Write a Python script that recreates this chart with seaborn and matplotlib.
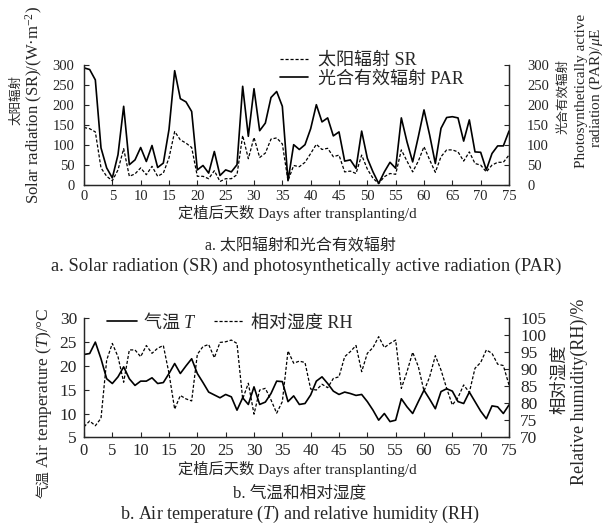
import matplotlib
matplotlib.use('Agg')
import matplotlib.pyplot as plt
import seaborn as sns
import pandas as pd

days = list(range(76))
sr = [143, 140, 132, 42, 21, 10, 37, 90, 21, 27, 42, 25, 46, 21, 29, 67, 133, 112, 104, 93,
      21, 21, 15, 35, 8, 15, 15, 25, 123, 65, 118, 68, 79, 114, 117, 102, 10, 48, 45, 56,
      78, 101, 88, 91, 70, 74, 32, 34, 28, 74, 39, 16, 3, 20, 28, 26, 87, 59, 32, 59,
      95, 62, 31, 70, 87, 87, 82, 59, 82, 53, 49, 32, 49, 56, 56, 74]
par = [292, 288, 262, 92, 42, 17, 75, 196, 50, 62, 93, 58, 98, 43, 54, 138, 285, 215, 207, 183,
       37, 48, 29, 83, 23, 37, 32, 50, 246, 121, 240, 135, 154, 218, 233, 196, 10, 100, 88, 100,
       140, 200, 157, 167, 122, 132, 59, 62, 41, 134, 66, 32, 3, 32, 56, 41, 167, 107, 57, 120,
       187, 124, 53, 141, 168, 170, 167, 109, 162, 82, 81, 37, 78, 97, 97, 134]
temp = [22.4, 22.6, 25.0, 21.5, 17.3, 16.3, 17.7, 19.8, 17.3, 15.9, 16.8, 16.8, 17.5, 16.3, 16.5,
        18.4, 20.5, 18.4, 20.0, 21.5, 18.4, 16.5, 14.5, 13.9, 13.3, 14.0, 13.5, 10.7, 13.3, 11.9,
        15.6, 11.9, 12.4, 14.2, 16.8, 16.7, 12.5, 13.7, 11.9, 12.1, 13.9, 16.8, 17.7, 16.3, 14.7,
        14.0, 14.5, 14.2, 13.8, 14.0, 12.5, 10.7, 8.6, 10.0, 8.3, 8.6, 13.1, 11.4, 10.0, 12.5,
        14.9, 13.0, 11.0, 14.6, 15.2, 14.7, 12.5, 12.1, 14.5, 12.5, 10.5, 8.9, 11.6, 11.4, 10.0, 11.8]
rh = [73.1, 74.8, 73.4, 75.6, 92.7, 97.6, 93.7, 86.2, 95.7, 95.7, 93.7, 97.0, 94.7, 96.2, 97.0,
      88.8, 78.3, 82.3, 81.3, 80.7, 94.4, 96.7, 97.3, 93.4, 97.9, 98.1, 98.6, 97.6, 81.3, 85.9,
      76.8, 83.9, 84.4, 81.0, 77.1, 80.5, 95.4, 91.8, 92.4, 92.0, 84.2, 83.9, 85.6, 84.6, 87.3,
      87.8, 93.7, 95.2, 97.0, 89.3, 94.7, 96.4, 99.6, 96.4, 97.6, 98.6, 84.4, 89.3, 95.0, 90.8,
      83.6, 87.8, 94.0, 89.8, 84.4, 79.5, 81.7, 85.4, 83.2, 90.3, 92.0, 95.7, 94.7, 91.5, 91.1, 85.4]

xticks = list(range(0, 80, 5))
rad_ticks = list(range(0, 350, 50))
t_ticks = list(range(5, 35, 5))
rh_ticks = list(range(70, 110, 5))

df = pd.DataFrame({'day': days, 'sr': sr, 'par': par, 'temp': temp, 'rh': rh})

sns.set_style('ticks')
plt.rcParams['font.family'] = ['Liberation Serif', 'Noto Sans CJK SC']
plt.rcParams['mathtext.fontset'] = 'custom'
plt.rcParams['mathtext.rm'] = 'Liberation Serif'
plt.rcParams['mathtext.it'] = 'Liberation Serif:italic'
plt.rcParams['axes.linewidth'] = 0.9

W, H = 611, 526
fig = plt.figure(figsize=(W / 100, H / 100), dpi=100)


def fx(x):
    return x / W


def fy(y):
    return 1 - y / H


ax1 = fig.add_axes([fx(84), fy(184.7), 425 / W, 120 / H])
ax1r = ax1.twinx()
ax2 = fig.add_axes([fx(84), fy(437.3), 425 / W, 119 / H])
ax2r = ax2.twinx()

dash = (0, (2.5, 1.5))
sns.lineplot(data=df, x='day', y='sr', ax=ax1, color='black', lw=0.9, linestyle=dash, legend=False)
sns.lineplot(data=df, x='day', y='par', ax=ax1r, color='black', lw=1.2, legend=False)
sns.lineplot(data=df, x='day', y='temp', ax=ax2, color='black', lw=1.2, legend=False)
sns.lineplot(data=df, x='day', y='rh', ax=ax2r, color='black', lw=0.9, linestyle=dash, legend=False)

for a in (ax1, ax1r, ax2, ax2r):
    a.set_xlim(0, 75)
    a.set_xlabel('')
    a.set_ylabel('')
    a.spines['top'].set_visible(False)
    a.tick_params(direction='in', length=3.5, width=0.8)

ax1.set_ylim(0, 300)
ax1r.set_ylim(0, 300)
ax1.set_yticks(rad_ticks)
ax1r.set_yticks(rad_ticks)
ax1.set_xticks(xticks)
ax1.tick_params(axis='y', labelsize=10.5, pad=7)
ax1.tick_params(axis='x', labelsize=10.5, pad=4)
ax1r.tick_params(axis='y', labelsize=10.5, pad=13)

ax2.set_ylim(5, 30)
ax2r.set_ylim(70, 105)
ax2.set_yticks(t_ticks)
ax2r.set_yticks(rh_ticks)
ax2.set_xticks(xticks)
ax2.tick_params(axis='y', labelsize=12.5, pad=5)
ax2.tick_params(axis='x', labelsize=12, pad=4)
ax2r.tick_params(axis='y', labelsize=12.5, pad=8)

# legends
h1 = ax1.get_lines()[0]
h2 = ax1r.get_lines()[0]
fig.legend([h1, h2], ['太阳辐射 SR', '光合有效辐射 PAR'], loc='upper left',
           bbox_to_anchor=(fx(280), fy(52)), frameon=False, fontsize=13,
           borderpad=0, borderaxespad=0, handlelength=1.55, handletextpad=0.55,
           labelspacing=0.1)
h3 = ax2.get_lines()[0]
h4 = ax2r.get_lines()[0]
leg2 = fig.legend([h3, h4], ['气温 $T$', '相对湿度 RH'], loc='upper left', ncol=2,
                  bbox_to_anchor=(fx(107), fy(311)), frameon=False, fontsize=13,
                  borderpad=0, borderaxespad=0, handlelength=1.65, handletextpad=0.35,
                  columnspacing=1.0)
leg2.get_texts()[0].set_fontfamily(['Noto Sans CJK SC'])

# axis labels as figure text
fig.text(fx(16.5), fy(100), '太阳辐射', rotation=90, ha='center', va='center', fontsize=9)
fig.text(fx(34), fy(105), 'Solar radiation (SR)/(W·m$^{-2}$)', rotation=90, ha='center', va='center', fontsize=12)
fig.text(fx(563), fy(97), '光合有效辐射', rotation=90, ha='center', va='center', fontsize=9)
fig.text(fx(581), fy(91), 'Photosynthetically active', rotation=90, ha='center', va='center', fontsize=11)
fig.text(fx(596), fy(88), 'radiation (PAR)/$\\mu$E', rotation=90, ha='center', va='center', fontsize=11)
fig.text(fx(297), fy(213), '定植后天数 Days after transplanting/d', ha='center', va='center', fontsize=11)
fig.text(fx(300), fy(246), 'a. 太阳辐射和光合有效辐射', ha='center', va='center', fontsize=11.5)
fig.text(fx(306), fy(266), 'a. Solar radiation (SR) and photosynthetically active radiation (PAR)',
         ha='center', va='center', fontsize=13.3)

fig.text(fx(44), fy(468), 'Air temperature ($T$)/°C', rotation=90, ha='center', va='bottom', fontsize=12.5)
fig.text(fx(44), fy(470), '气温', rotation=90, ha='center', va='top', fontsize=10)
fig.text(fx(560), fy(379), '相对湿度', rotation=90, ha='center', va='center', fontsize=12.5)
fig.text(fx(579), fy(392), 'Relative humidity(RH)/%', rotation=90, ha='center', va='center', fontsize=13)
fig.text(fx(297), fy(469), '定植后天数 Days after transplanting/d', ha='center', va='center', fontsize=11)
fig.text(fx(300), fy(493), 'b. 气温和相对湿度', ha='center', va='center', fontsize=12)
fig.text(fx(300), fy(514), 'b. Air temperature ($T$) and relative humidity (RH)', ha='center', va='center', fontsize=13)

fig.savefig('out.png', dpi=100)
